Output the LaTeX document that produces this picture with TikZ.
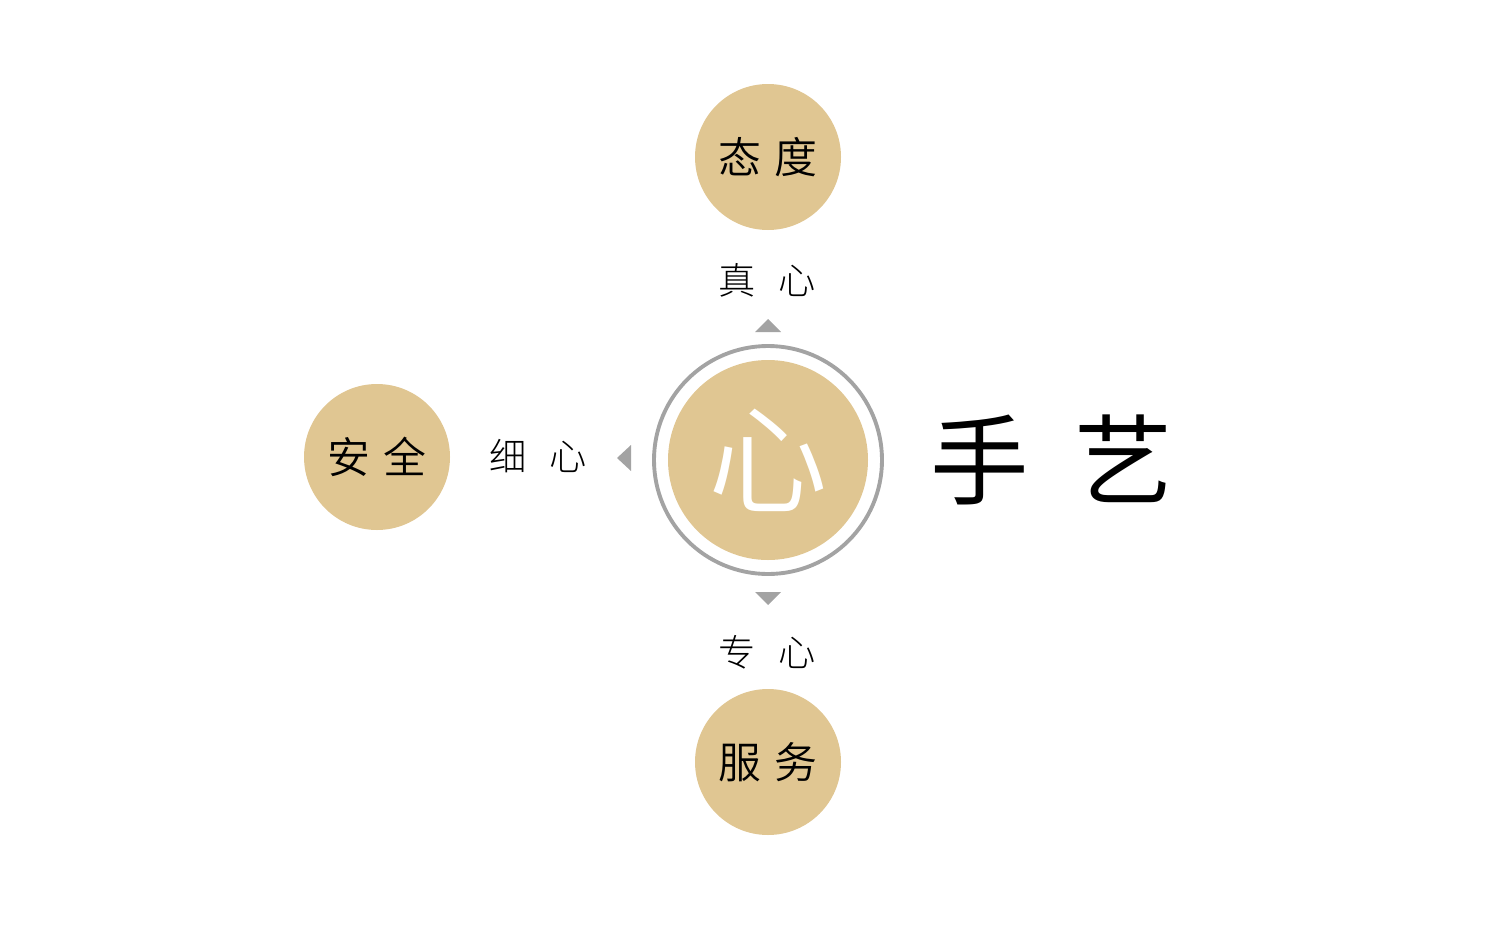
\documentclass[tikz,border=0pt]{standalone}
\usepackage{fontspec}
\newfontfamily\cjk{Noto Sans CJK SC}
\newfontfamily\cjkdemi{Noto Sans CJK SC}[UprightFont={* DemiLight}]
\newfontfamily\cjklight{Noto Sans CJK SC}[UprightFont={* Light}]
\definecolor{gold}{RGB}{224,198,146}
\definecolor{ringgray}{RGB}{163,163,163}
\tikzset{
  badge/.style={circle, fill=gold, minimum size=1.46cm, inner sep=0pt, font=\cjkdemi\fontsize{12.2}{12.2}\selectfont},
  hint/.style={inner sep=0pt, font=\cjklight\fontsize{10.6}{10.6}\selectfont}
}
\begin{document}
\begin{tikzpicture}
                \useasboundingbox (0,0) rectangle (15.01,9.40);

                \node[circle, draw=ringgray, line width=1.1pt, minimum size=2.28cm] (ring) at (7.68,4.80) {};
                \node[circle, fill=gold, minimum size=2.0cm, inner sep=0pt, text=white, font=\cjkdemi\fontsize{34}{34}\selectfont] (heart) at (7.68,4.80) {心};

                \node[badge] (attitude) at (7.68,7.83) {态\hspace{0.3em}度};
                \node[badge] (safety) at (3.77,4.83) {安\hspace{0.3em}全};
                \node[badge] (service) at (7.68,1.78) {服\hspace{0.3em}务};

                \node[hint] (sincere) at (7.67,6.60) {真\hspace{0.6em}心};
                \node[hint] (careful) at (5.38,4.84) {细\hspace{0.6em}心};
                \node[hint] (focused) at (7.67,2.88) {专\hspace{0.6em}心};

                \node[inner sep=0pt, font=\cjk\fontsize{28}{28}\selectfont] (craft) at (10.52,4.80) {手\hspace{0.46em}艺};

                \fill[ringgray] (7.55,6.08) -- (7.81,6.08) -- (7.68,6.21) -- cycle;
                \fill[ringgray] (7.55,3.48) -- (7.81,3.48) -- (7.68,3.35) -- cycle;
                \fill[ringgray] (6.31,4.95) -- (6.31,4.69) -- (6.17,4.82) -- cycle;
            \end{tikzpicture}
\end{document}
